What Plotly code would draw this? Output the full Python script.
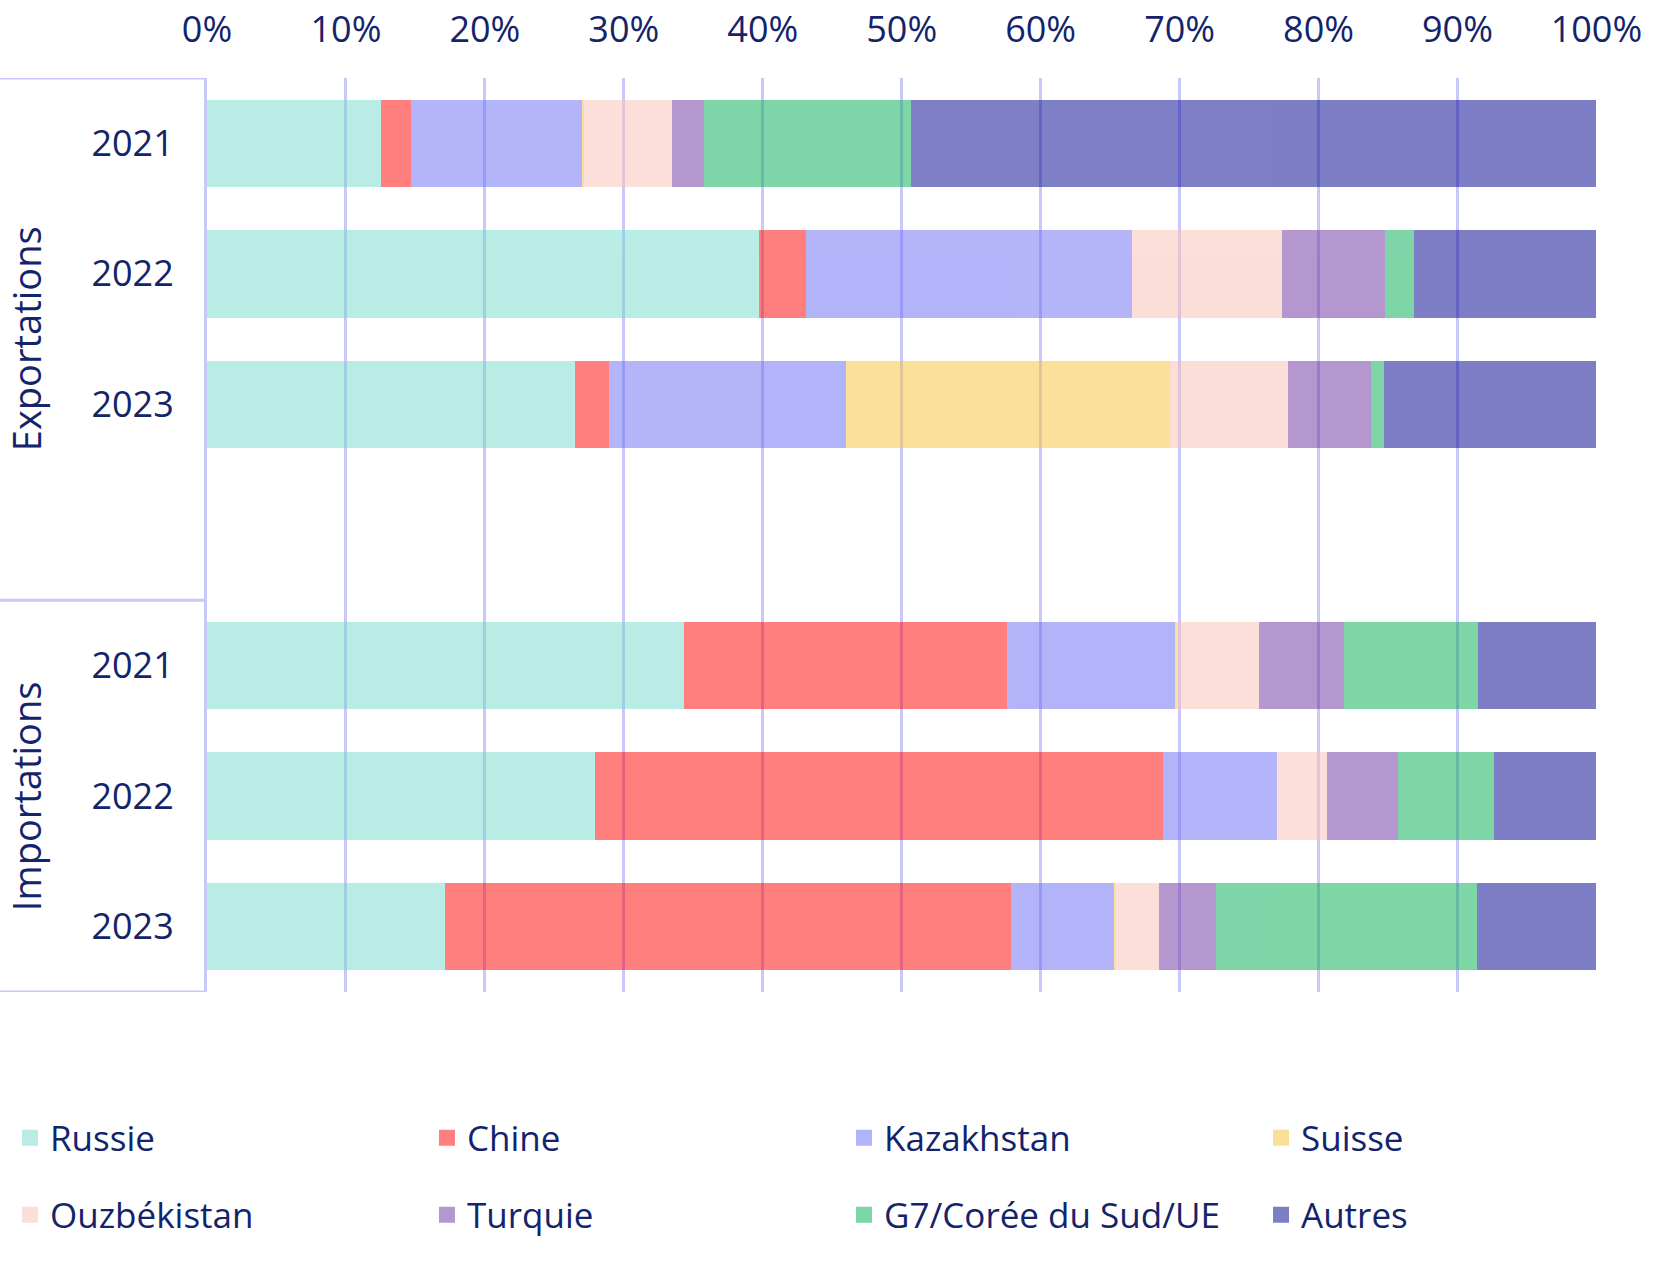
import plotly.graph_objects as go

groups = ["Exportations", "Importations"]
years = ["2021", "2022", "2023"]
series = ["Russie", "Chine", "Kazakhstan", "Suisse", "Ouzbékistan", "Turquie",
          "G7/Corée du Sud/UE", "Autres"]

# Shares in %, order: Exp 2021, Exp 2022, Exp 2023, Imp 2021, Imp 2022, Imp 2023
russie      = [12.5, 39.7, 26.5, 34.3, 27.9, 17.1]
chine       = [2.2, 3.4, 2.4, 23.3, 40.9, 40.8]
kazakhstan  = [12.3, 23.5, 17.1, 12.1, 8.2, 7.4]
suisse      = [0.15, 0.0, 23.3, 0.1, 0.0, 0.1]
ouzbekistan = [6.3, 10.8, 8.5, 5.9, 3.6, 3.1]
turquie     = [2.3, 7.4, 6.0, 6.1, 5.1, 4.1]
g7          = [14.9, 2.1, 0.9, 9.7, 6.9, 18.8]
autres      = [49.35, 13.1, 15.3, 8.5, 7.4, 8.6]

values = [russie, chine, kazakhstan, suisse, ouzbekistan, turquie, g7, autres]
colors = ["#73dbcb", "#ff0000", "#6a6af4", "#f7c135", "#f9bfb1", "#6b319f",
          "#00ac50", "#000091"]

TEXT = "#13246b"
LINE = "#c8c8fb"
FONT = "Open Sans"
W, H = 1671, 1282

# row positions: one empty slot between the two groups
ypos, ylab = [], []
for g, grp in enumerate(groups):
    for i, yr in enumerate(years):
        ypos.append(g * (len(years) + 1) + i)
        ylab.append(yr)

fig = go.Figure()
for name, vals, col in zip(series, values, colors):
    fig.add_trace(go.Bar(
        y=ypos, x=[v / 100 for v in vals], orientation="h", name=name,
        marker=dict(color=col, line=dict(width=0)), opacity=0.5,
        showlegend=False, hovertemplate=name + ": %{x:.1%}<extra></extra>"))

# legend: 4 columns x 2 rows, one legend box per entry
COLS = 4
col_step = 417
row_y = [1138, 1215]
legends = {}
for k, (name, col) in enumerate(zip(series, colors)):
    key = "legend" if k == 0 else f"legend{k + 1}"
    fig.add_trace(go.Scatter(
        x=[None], y=[None], mode="markers", name=name,
        marker=dict(symbol="square", size=16, color=col), opacity=0.5,
        legend=key))
    c, r = k % COLS, k // COLS
    legends[key] = dict(
        orientation="h", xref="container", yref="container",
        x=(10 + c * col_step) / W, xanchor="left",
        y=1 - row_y[r] / H, yanchor="middle",
        font=dict(size=35, color=TEXT, family=FONT),
        bgcolor="rgba(0,0,0,0)")

n_slots = len(groups) * (len(years) + 1) - 1
fig.update_layout(
    width=W, height=H, autosize=False,
    margin=dict(l=207, r=74, t=78, b=290, pad=0),
    paper_bgcolor="white", plot_bgcolor="white",
    barmode="stack", bargap=0.33,
    font=dict(family=FONT, color=TEXT, size=36),
    xaxis=dict(side="top", range=[0, 1.0004], tick0=0, dtick=0.1,
               tickformat=".0%", showgrid=True, gridcolor=LINE, gridwidth=2.5,
               zeroline=False, showline=False, ticks="",
               ticklabelstandoff=28, automargin=False,
               tickfont=dict(size=36, color=TEXT, family=FONT)),
    yaxis=dict(range=[n_slots - 0.5, -0.5], tickvals=ypos, ticktext=ylab,
               showgrid=False, zeroline=False, showline=True,
               linecolor=LINE, linewidth=3, ticks="",
               ticklabelstandoff=23, automargin=False,
               tickfont=dict(size=36, color=TEXT, family=FONT)),
    **legends,
)

# left-side group dividers and labels
bounds = [-0.5, len(years) + 0.5, n_slots - 0.5]
for b in bounds:
    fig.add_shape(type="line", xref="paper", xsizemode="pixel", xanchor=0,
                  x0=-207, x1=0, yref="y", y0=b, y1=b,
                  line=dict(color=LINE, width=3), layer="above")

for g, grp in enumerate(groups):
    lo, hi = bounds[g], bounds[g + 1]
    fig.add_annotation(text=grp, xref="paper", x=0, xshift=-181, xanchor="center",
                       yref="y", y=(lo + hi) / 2, yanchor="middle",
                       textangle=-90, showarrow=False,
                       font=dict(size=38, color=TEXT, family=FONT))

fig.write_html("out.html")
